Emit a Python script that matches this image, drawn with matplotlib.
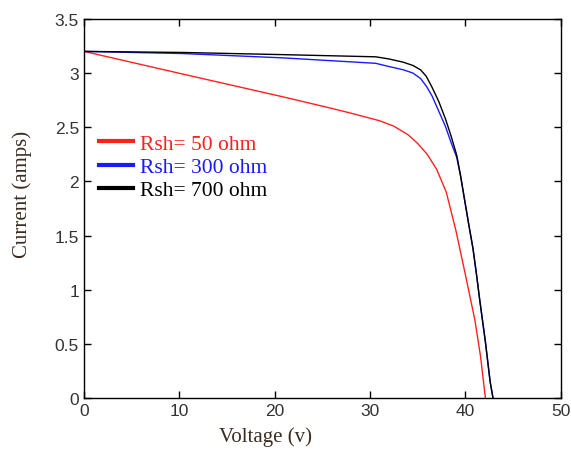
import matplotlib.pyplot as plt

# I-V curves of a PV module for three shunt resistances
v_50 = [0, 10.4, 20.9, 25.7, 28.0, 31.0, 32.5, 34.0, 35.0, 36.0, 37.0, 38.0, 39.0, 40.0, 41.0, 41.6, 42.1]
i_50 = [3.2, 2.99, 2.78, 2.68, 2.63, 2.56, 2.51, 2.43, 2.35, 2.25, 2.11, 1.90, 1.55, 1.14, 0.72, 0.38, 0.0]

v_300 = [0, 10.4, 20.9, 30.6, 32.0, 33.5, 34.5, 35.3, 35.9, 36.5, 37.2, 37.9, 38.5, 39.1,
         39.5, 39.9, 40.4, 40.8, 41.2, 41.5, 42.1, 42.6, 42.9]
i_300 = [3.2, 3.18, 3.14, 3.09, 3.06, 3.03, 3.00, 2.95, 2.88, 2.79, 2.65, 2.51, 2.36, 2.22,
         2.05, 1.84, 1.58, 1.38, 1.12, 0.91, 0.52, 0.15, 0.0]

v_700 = [0, 10.4, 20.9, 30.6, 32.0, 33.5, 34.5, 35.3, 35.9, 36.5, 37.2, 37.9, 38.5, 39.1,
         39.5, 39.9, 40.4, 40.8, 41.2, 41.5, 42.1, 42.6, 42.9]
i_700 = [3.2, 3.19, 3.17, 3.15, 3.13, 3.10, 3.07, 3.03, 2.97, 2.87, 2.74, 2.58, 2.42, 2.24,
         2.05, 1.84, 1.58, 1.38, 1.12, 0.91, 0.52, 0.15, 0.0]

labels = ['Rsh= 50 ohm', 'Rsh= 300 ohm', 'Rsh= 700 ohm']
colors = ['#ff2020', '#1a1aff', '#000000']

fig = plt.figure(figsize=(5.71, 4.52), dpi=100, facecolor='white')
ax = fig.add_axes([0.147, 0.117, 0.835, 0.839])

ax.plot(v_50, i_50, color=colors[0], lw=1.0)
ax.plot(v_300, i_300, color=colors[1], lw=1.0)
ax.plot(v_700, i_700, color=colors[2], lw=1.0)

ax.set_xlim(0, 50)
ax.set_ylim(0, 3.5)
ax.set_xticks([0, 10, 20, 30, 40, 50])
ax.set_yticks([0, 0.5, 1, 1.5, 2, 2.5, 3, 3.5])
ax.set_yticklabels(['0', '0.5', '1', '1.5', '2', '2.5', '3', '3.5'])
ax.tick_params(direction='in', length=5, width=1, labelsize=12.5,
               labelcolor='#333333', top=True, right=True)
for lab in ax.get_xticklabels() + ax.get_yticklabels():
    lab.set_fontfamily('Liberation Sans')
for sp in ax.spines.values():
    sp.set_linewidth(1.0)

ax.set_xlabel('Voltage (v)', fontsize=15, family='Liberation Serif', color='#3a2c20')
ax.set_ylabel('Current (amps)', fontsize=15, family='Liberation Serif', color='#3a2c20')
ax.xaxis.set_label_coords(0.38, -0.075)
ax.yaxis.set_label_coords(-0.109, 0.54)

# legend, no frame, coloured labels
handles = [plt.Line2D([], [], color=c, lw=3) for c in colors]
leg = ax.legend(handles, labels, loc='upper left', bbox_to_anchor=(0.031, 0.697),
                frameon=False, handlelength=1.6, handletextpad=0.33,
                labelspacing=0.15, borderaxespad=0, borderpad=0,
                prop={'family': 'Liberation Serif', 'size': 15.5})
for txt, c in zip(leg.get_texts(), colors):
    txt.set_color(c)

plt.savefig('out.png', dpi=100, facecolor='white')
